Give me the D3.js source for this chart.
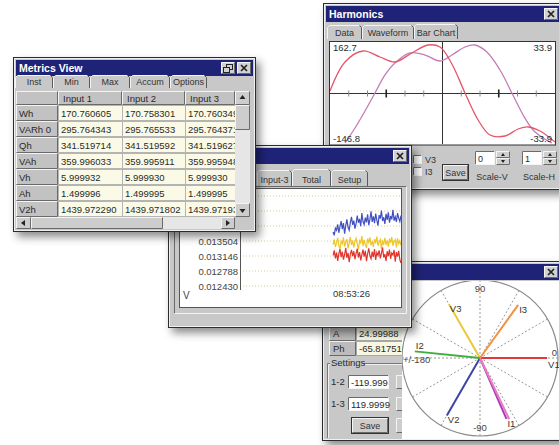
<!DOCTYPE html>
<html>
<head>
<meta charset="utf-8">
<script src="https://cdn.jsdelivr.net/npm/d3@7"></script>
<style>
  body { margin: 0; background: #fff; }
  svg { display: block; }
</style>
</head>
<body>
<script>
// ---- data ----
var metricTabs = ["Inst", "Min", "Max", "Accum", "Options"];
var metricCols = ["Input 1", "Input 2", "Input 3"];
var metricRows = ["Wh", "VARh 0", "Qh", "VAh", "Vh", "Ah", "V2h"];
var input1 = [170.760605, 295.764343, 341.519714, 359.996033, 5.999932, 1.499996, 1439.972290];
var input2 = [170.758301, 295.765533, 341.519592, 359.995911, 5.999930, 1.499995, 1439.971802];
var input3 = [170.760349, 295.764371, 341.519627, 359.995948, 5.999930, 1.499995, 1439.971935];

var harmTabs = ["Data", "Waveform", "Bar Chart"];
var harmTicks = [30, 60, 90, 120, 150, 210, 240, 270, 300, 330];
var harmDeg1 = [0, 24, 53, 80, 104, 131, 157, 176, 195, 216, 237, 256, 280, 301, 317, 336, 360];
var harmVal1 = [15.6, 104.5, 138.2, 119.8, 104.5, 132.1, 156.6, 150.4, 98.4, 9.5, -73.2, -119.2, -122.3, -100.8, -94.7, -106.9, -140.6];
var harmDeg2 = [24, 40, 56, 72, 88, 104, 128, 152, 176, 195, 216, 232, 251, 272, 291, 309, 325, 341, 355];
var harmVal2 = [-143.7, -97.7, -45.7, 9.5, 64.7, 101.4, 132.1, 125.9, 107.5, 125.9, 150.4, 156.6, 135.1, 80, 9.5, -57.9, -103.9, -128.4, -143.7];

var trendTabs = ["Input-3", "Total", "Setup"];
var trendGrid = [0.012430, 0.012788, 0.013146, 0.013504, 0.013862, 0.014220, 0.014578];
var trendLabels = [0.012430, 0.012788, 0.013146, 0.013504];
var trendTime = "08:53:26";
var trendBlue = [0.013720, 0.013640, 0.013810, 0.013760, 0.013900, 0.013700, 0.013850, 0.013980, 0.013790, 0.013930,
                 0.013680, 0.013870, 0.014020, 0.013830, 0.013760, 0.013950, 0.014080, 0.013890, 0.013990, 0.013800,
                 0.013920, 0.014110, 0.013940, 0.014030, 0.013860, 0.014170, 0.013970, 0.013900, 0.014060, 0.013950,
                 0.014140, 0.013880, 0.014020, 0.014210, 0.013960, 0.014090, 0.013930, 0.014160, 0.014000, 0.013870,
                 0.014120, 0.014040, 0.014230, 0.013980, 0.014070, 0.013910, 0.014150, 0.014010, 0.014190, 0.013940,
                 0.014100, 0.014020, 0.014250, 0.013990, 0.014080, 0.013960, 0.014170, 0.014050, 0.013970, 0.014110];
var trendYellow = [0.013420, 0.013540, 0.013360, 0.013470, 0.013580, 0.013390, 0.013310, 0.013500, 0.013440, 0.013590,
                   0.013370, 0.013480, 0.013550, 0.013330, 0.013460, 0.013600, 0.013410, 0.013520, 0.013350, 0.013490,
                   0.013570, 0.013430, 0.013300, 0.013510, 0.013460, 0.013620, 0.013380, 0.013530, 0.013420, 0.013340,
                   0.013560, 0.013470, 0.013590, 0.013400, 0.013500, 0.013360, 0.013550, 0.013450, 0.013610, 0.013390,
                   0.013480, 0.013540, 0.013320, 0.013500, 0.013430, 0.013580, 0.013410, 0.013520, 0.013370, 0.013560,
                   0.013460, 0.013600, 0.013390, 0.013490, 0.013540, 0.013350, 0.013570, 0.013440, 0.013510, 0.013400];
var trendRed = [0.013160, 0.013280, 0.013090, 0.013230, 0.013030, 0.013200, 0.013310, 0.013120, 0.013250, 0.013060,
                0.013180, 0.013340, 0.013100, 0.013220, 0.013000, 0.013190, 0.013290, 0.013140, 0.013260, 0.013070,
                0.013210, 0.013320, 0.013110, 0.013240, 0.013040, 0.013170, 0.013300, 0.013130, 0.013270, 0.013020,
                0.013200, 0.013330, 0.013150, 0.013080, 0.013250, 0.013120, 0.013310, 0.013050, 0.013230, 0.013160,
                0.013280, 0.013090, 0.013210, 0.013350, 0.013110, 0.013190, 0.013030, 0.013260, 0.013140, 0.013300,
                0.013080, 0.013220, 0.013170, 0.013290, 0.013010, 0.013240, 0.013130, 0.013270, 0.013060, 0.012980];

var phasorNames = ["V1", "V2", "V3", "I1", "I1", "I2", "I3"];
var phasorAngles = [0, -120, 120, -66.5, -64.5, 174.2, 54.3];
var phasorMags = [86, 85, 80, 85, 87, 84, 84];
var phasorRing = [0, 30, 60, 90, 120, 150, 180, 210, 240, 270, 300, 330];
var phasorRows = ["A", "Ph"];
var phasorRowVals = ["24.99988", "-65.81751"];
var settingNames = ["1-2", "1-3"];
var settingVals = ["-119.999", "119.9999"];

// ---- styles ----
var FONT = '"Liberation Sans", Arial, sans-serif';
var phasorColors = ["#e2383a", "#3d44a8", "#ecc83a", "#a43cbc", "#ea7ac4", "#3fae3f", "#f29240"];
var labelDy = { V1: 10, I2: -2 };

var svg = d3.select("body").append("svg")
  .attr("width", 559).attr("height", 445)
  .style("font-family", FONT);
svg.append("rect").attr("width", 559).attr("height", 445).attr("fill", "#fff");

var defs = svg.append("defs");
defs.append("filter").attr("id", "shadow")
  .attr("x", "-10%").attr("y", "-10%").attr("width", "130%").attr("height", "130%")
  .append("feDropShadow").attr("dx", 4).attr("dy", 5).attr("stdDeviation", 4)
  .attr("flood-color", "#000").attr("flood-opacity", 0.45);

function label(g, x, y, s, size, anchor, fill, weight) {
  return g.append("text").attr("x", x).attr("y", y).text(s)
    .attr("font-size", size || 9.5)
    .attr("text-anchor", anchor || "start")
    .attr("fill", fill || "#2a2a2a")
    .attr("font-weight", weight || "normal");
}

function box(g, x, y, w, h, fill, style) {
  g.append("rect").attr("x", x).attr("y", y).attr("width", w).attr("height", h).attr("fill", fill);
  if (style == "flat") return;
  var hi = "#f4f4f4", lo = "#6a6a6a";
  var a = style == "raised" ? hi : lo, b = style == "raised" ? lo : hi;
  g.append("path").attr("d", "M" + (x + 0.5) + "," + (y + h - 0.5) + "V" + (y + 0.5) + "H" + (x + w - 0.5))
    .attr("fill", "none").attr("stroke", a);
  g.append("path").attr("d", "M" + (x + 0.5) + "," + (y + h - 0.5) + "H" + (x + w - 0.5) + "V" + (y + 0.5))
    .attr("fill", "none").attr("stroke", b);
}

function closeButton(g, x, y) {
  box(g, x, y, 14, 12, "#d2d2d2", "raised");
  g.append("path").attr("d", "M" + (x + 4) + "," + (y + 3) + "l6,6M" + (x + 10) + "," + (y + 3) + "l-6,6")
    .attr("stroke", "#222").attr("stroke-width", 1.7);
}

function restoreButton(g, x, y) {
  box(g, x, y, 14, 12, "#d2d2d2", "raised");
  g.append("rect").attr("x", x + 5.5).attr("y", y + 2.5).attr("width", 6).attr("height", 5)
    .attr("fill", "none").attr("stroke", "#222");
  g.append("rect").attr("x", x + 2.5).attr("y", y + 5.5).attr("width", 6).attr("height", 5)
    .attr("fill", "#d2d2d2").attr("stroke", "#222");
}

function makeWindow(x, y, w, h, title) {
  var g = svg.append("g");
  g.append("rect").attr("x", x).attr("y", y).attr("width", w).attr("height", h)
    .attr("fill", "#c8c8c8").attr("filter", "url(#shadow)");
  g.append("rect").attr("x", x + 0.5).attr("y", y + 0.5).attr("width", w - 1).attr("height", h - 1)
    .attr("fill", "none").attr("stroke", "#2c2c2c");
  g.append("rect").attr("x", x + 1.5).attr("y", y + 1.5).attr("width", w - 3).attr("height", h - 3)
    .attr("fill", "none").attr("stroke", "#efefef");
  g.append("rect").attr("x", x + 3).attr("y", y + 3).attr("width", w - 6).attr("height", 16).attr("fill", "#1f2377");
  if (title) label(g, x + 6, y + 15, title, 10.5, "start", "#fff", "bold");
  closeButton(g, x + w - 19, y + 5);
  return g;
}

function tabRow(g, x0, y0, names, widths, h, sel) {
  var x = x0;
  names.forEach(function (n, i) {
    var w = widths[i], top = (i == sel) ? y0 - 1 : y0;
    g.append("path").attr("d", "M" + (x + 0.5) + "," + (y0 + h) + "V" + (top + 2.5) + "l2,-2H" + (x + w - 2.5))
      .attr("fill", "none").attr("stroke", "#f4f4f4");
    g.append("path").attr("d", "M" + (x + w - 2.5) + "," + (top + 0.5) + "l2,2V" + (y0 + h))
      .attr("fill", "none").attr("stroke", "#5a5a5a");
    label(g, x + w / 2, y0 + h - 3.5, n, 9, "middle", "#333");
    x += w;
  });
}

function spinBox(g, x, y, val, caption) {
  box(g, x, y, 20, 14, "#fff", "sunken");
  label(g, x + 3, y + 10.5, val, 9);
  box(g, x + 21, y, 14, 7, "#d0d0d0", "raised");
  box(g, x + 21, y + 7, 14, 7, "#d0d0d0", "raised");
  g.append("path").attr("d", "M" + (x + 28) + "," + (y + 2) + "l-2,3h4z").attr("fill", "#222");
  g.append("path").attr("d", "M" + (x + 28) + "," + (y + 12) + "l-2,-3h4z").attr("fill", "#222");
  label(g, x + 17, y + 29, caption, 9, "middle", "#333");
}

function checkBox(g, x, y, caption) {
  box(g, x, y, 9, 9, "#fff", "sunken");
  label(g, x + 12, y + 8, caption, 9, "start", "#333");
}

function button(g, x, y, w, h, caption) {
  g.append("rect").attr("x", x - 0.5).attr("y", y - 0.5).attr("width", w + 1).attr("height", h + 1)
    .attr("fill", "none").attr("stroke", "#333");
  box(g, x, y, w, h, "#cdcdcd", "raised");
  label(g, x + w / 2, y + h / 2 + 3.5, caption, 9, "middle", "#333");
}

// ================= Harmonics window =================
var hw = makeWindow(323, 3, 240, 187, "Harmonics");
tabRow(hw, 327, 25, harmTabs, [35, 52, 44], 14, 2);

var hx = d3.scaleLinear().domain([0, 360]).range([330, 555]);
var hyL = d3.scaleLinear().domain([-146.8, 162.7]).range([144, 43]);
var hyR = d3.scaleLinear().domain([-33.9, 33.9]).range([144, 43]);

hw.append("rect").attr("x", 329.5).attr("y", 41.5).attr("width", 226).attr("height", 103.5)
  .attr("fill", "#fff").attr("stroke", "#333");
defs.append("clipPath").attr("id", "hclip").append("rect")
  .attr("x", 330).attr("y", 42).attr("width", 225).attr("height", 102);
var hp = hw.append("g").attr("clip-path", "url(#hclip)");

hp.append("line").attr("x1", hx(0)).attr("x2", hx(360)).attr("y1", hyR(0)).attr("y2", hyR(0))
  .attr("stroke", "#333");
hp.append("line").attr("x1", hx(180)).attr("x2", hx(180)).attr("y1", 42).attr("y2", 144)
  .attr("stroke", "#333");
hp.selectAll(".htick").data(harmTicks).enter().append("line")
  .attr("x1", function (d) { return hx(d); }).attr("x2", function (d) { return hx(d); })
  .attr("y1", function (d) { return hyR(0) - (d % 90 == 0 ? 4 : 3); })
  .attr("y2", function (d) { return hyR(0) + (d % 90 == 0 ? 4 : 3); })
  .attr("stroke", function (d) { return d % 90 == 0 ? "#222" : "#888"; })
  .attr("stroke-width", function (d) { return d % 90 == 0 ? 1.6 : 1; });

var hline = d3.line()
  .x(function (d) { return hx(d[0]); })
  .y(function (d) { return hyL(d[1]); })
  .curve(d3.curveCatmullRom.alpha(0.5));
hp.append("path").attr("d", hline(d3.zip(harmDeg2, harmVal2)))
  .attr("fill", "none").attr("stroke", "#c47cb8").attr("stroke-width", 1.3);
hp.append("path").attr("d", hline(d3.zip(harmDeg1, harmVal1)))
  .attr("fill", "none").attr("stroke", "#e4566a").attr("stroke-width", 1.3);

label(hw, hx(0) + 3, hyL.range()[1] + 8, String(hyL.domain()[1]), 9.5);
label(hw, hx(360) - 3, hyR.range()[1] + 8, String(hyR.domain()[1]), 9.5, "end");
label(hw, hx(0) + 3, hyL.range()[0] - 2, String(hyL.domain()[0]), 9.5);
label(hw, hx(360) - 3, hyR.range()[0] - 2, String(hyR.domain()[0]), 9.5, "end");

checkBox(hw, 413, 155, "V3");
checkBox(hw, 413, 167, "I3");
button(hw, 443, 165, 25, 15, "Save");
spinBox(hw, 475, 151, "0", "Scale-V");
spinBox(hw, 522, 151, "1", "Scale-H");

// ================= Phasor window =================
var pw = makeWindow(322, 261, 241, 180, "");

phasorRows.forEach(function (r, i) {
  var y = 326 + i * 15;
  box(pw, 329, y, 27, 15, "#bcbcbc", "raised");
  label(pw, 333, y + 11, r, 9.5);
  pw.append("rect").attr("x", 356.5).attr("y", y + 0.5).attr("width", 48).attr("height", 14)
    .attr("fill", "#f7f7e4").attr("stroke", "#a8a8a8");
  label(pw, 359, y + 11, phasorRowVals[i], 9.5);
});

pw.append("path").attr("d", "M327.5,438V363.5H404").attr("fill", "none").attr("stroke", "#777");
pw.append("path").attr("d", "M328.5,438V364.5H404").attr("fill", "none").attr("stroke", "#f0f0f0");
pw.append("rect").attr("x", 330).attr("y", 358).attr("width", 34).attr("height", 11).attr("fill", "#c8c8c8");
label(pw, 331, 366, "Settings", 9.5);
settingNames.forEach(function (s, i) {
  var y = 375 + i * 22;
  label(pw, 331, y + 10, s, 9.5);
  box(pw, 348, y, 41, 14, "#fff", "sunken");
  label(pw, 351, y + 10.5, settingVals[i], 9.5);
  box(pw, 396, y, 12, 14, "#cdcdcd", "raised");
});
button(pw, 352, 418, 36, 15, "Save");
box(pw, 396, 418, 12, 15, "#cdcdcd", "raised");

// polar plot
pw.append("rect").attr("x", 402).attr("y", 281).attr("width", 157).attr("height", 158).attr("fill", "#fff");
defs.append("clipPath").attr("id", "pclip").append("rect")
  .attr("x", 402).attr("y", 281).attr("width", 157).attr("height", 158);
var pg = pw.append("g").attr("clip-path", "url(#pclip)")
  .append("g").attr("transform", "translate(480,358)");
var pr = d3.scaleLinear().domain([0, 100]).range([0, 78]);
function polar(deg, mag) {
  return d3.pointRadial(Math.PI / 2 - deg * Math.PI / 180, pr(mag));
}
pg.append("circle").attr("r", pr(100)).attr("fill", "none").attr("stroke", "#8a8a8a").attr("stroke-width", 1.2);
pg.selectAll(".spoke").data(phasorRing).enter().append("line")
  .attr("x2", function (d) { return polar(d, 100)[0]; })
  .attr("y2", function (d) { return polar(d, 100)[1]; })
  .attr("stroke", "#9a9a9a").attr("stroke-dasharray", "2,2");

label(pg, polar(90, 100)[0], polar(90, 100)[1] + 12, "90", 9.5, "middle", "#444");
label(pg, polar(-90, 100)[0], polar(-90, 100)[1] - 5, "-90", 9.5, "middle", "#444");
label(pg, polar(0, 100)[0] - 1, -2, "0", 9.5, "end", "#444");
label(pg, polar(180, 100)[0] + 1, 5, "+/-180", 9.5, "start", "#444");

pg.selectAll(".vec").data(phasorAngles).enter().append("line")
  .attr("x2", function (d, i) { return polar(d, phasorMags[i])[0]; })
  .attr("y2", function (d, i) { return polar(d, phasorMags[i])[1]; })
  .attr("stroke", function (d, i) { return phasorColors[i]; })
  .attr("stroke-width", 2);
var seen = {};
phasorNames.forEach(function (n, i) {
  if (seen[n]) return;
  seen[n] = true;
  var p = polar(phasorAngles[i], phasorMags[i]);
  var dy = labelDy[n] !== undefined ? labelDy[n] : 8;
  label(pg, p[0] + 1, p[1] + dy, n, 9.5, "start", "#333");
});

// ================= Trend window =================
var tw = makeWindow(168, 145, 244, 183, "");
tabRow(tw, 257, 170, trendTabs, [35, 39, 37], 16, 1);
box(tw, 174, 186, 233, 128, "#c8c8c8", "sunken");
tw.append("rect").attr("x", 179.5).attr("y", 188.5).attr("width", 222).attr("height", 119)
  .attr("fill", "#fff").attr("stroke", "#555");

var tx = d3.scaleLinear().domain([-133, 59]).range([180, 401]);
var ty = d3.scaleLinear().domain([trendGrid[0], trendGrid[6]]).range([286, 196]);
var axisX = 240;

tw.selectAll(".tgrid").data(trendGrid).enter().append("line")
  .attr("x1", axisX).attr("x2", 400)
  .attr("y1", function (d) { return ty(d); }).attr("y2", function (d) { return ty(d); })
  .attr("stroke", "#d6cc98").attr("stroke-dasharray", "1,2");
tw.append("line").attr("x1", axisX + 0.5).attr("x2", axisX + 0.5).attr("y1", 189).attr("y2", ty(trendGrid[0]) + 4)
  .attr("stroke", "#555");
trendLabels.forEach(function (v) {
  label(tw, axisX - 2, ty(v) + 3.5, d3.format(".6f")(v), 9.5, "end", "#444");
});
label(tw, 183, 299, "V", 10, "start", "#444");
label(tw, tx(0), 297, trendTime, 9.5, "start", "#333");

defs.append("clipPath").attr("id", "tclip").append("rect")
  .attr("x", 180).attr("y", 189).attr("width", 221).attr("height", 118);
var tline = d3.line()
  .x(function (d, i) { return tx(i); })
  .y(function (d) { return ty(d); });
var tp = tw.append("g").attr("clip-path", "url(#tclip)");
[[trendYellow, "#efc62a"], [trendRed, "#e2342c"], [trendBlue, "#4150c2"]].forEach(function (s) {
  tp.append("path").attr("d", tline(s[0])).attr("fill", "none")
    .attr("stroke", s[1]).attr("stroke-width", 1.2);
});

// ================= Metrics window =================
var mw = makeWindow(13, 57, 243, 175, "Metrics View");
restoreButton(mw, 221, 62);
tabRow(mw, 15, 75, metricTabs, [38, 37, 40, 40, 37], 13, -1);

var colEdges = [16, 58, 122, 185, 235];
var rowY = d3.scaleBand().domain(metricRows).range([105, 217]);
var colVals = [input1, input2, input3];

box(mw, 16, 91, 42, 14, "#c2c2c2", "raised");
metricCols.forEach(function (c, j) {
  var x0 = colEdges[j + 1], x1 = colEdges[j + 2];
  box(mw, x0, 91, x1 - x0, 14, "#c2c2c2", "raised");
  label(mw, x0 + 5, 102, c, 9.5);
});
defs.append("clipPath").attr("id", "mclip").append("rect")
  .attr("x", 16).attr("y", 91).attr("width", 219).attr("height", 126);
var mt = mw.append("g").attr("clip-path", "url(#mclip)");
metricRows.forEach(function (r, i) {
  var y = rowY(r), h = rowY.bandwidth();
  box(mt, 16, y, 42, h, "#c2c2c2", "raised");
  label(mt, 19, y + 11.5, r, 9.5);
  colVals.forEach(function (vals, j) {
    var x0 = colEdges[j + 1], x1 = colEdges[j + 2];
    mt.append("rect").attr("x", x0 + 0.5).attr("y", y + 0.5).attr("width", x1 - x0).attr("height", h - 1)
      .attr("fill", "#fafae6").attr("stroke", "#b4b4b4");
    label(mt, x0 + 3, y + 11.5, vals[i].toFixed(6), 9.5);
  });
});

// vertical scrollbar
mw.append("rect").attr("x", 235).attr("y", 91).attr("width", 15).attr("height", 126).attr("fill", "#e6e6e6");
box(mw, 235, 91, 15, 14, "#cdcdcd", "raised");
mw.append("path").attr("d", "M242.5,95l-3,4h6z").attr("fill", "#222");
box(mw, 235, 105, 15, 25, "#cdcdcd", "raised");
box(mw, 235, 203, 15, 14, "#cdcdcd", "raised");
mw.append("path").attr("d", "M242.5,213l-3,-4h6z").attr("fill", "#222");
// horizontal scrollbar
mw.append("rect").attr("x", 16).attr("y", 217).attr("width", 219).attr("height", 12).attr("fill", "#e6e6e6");
box(mw, 16, 217, 15, 12, "#cdcdcd", "raised");
mw.append("path").attr("d", "M21,223l4,-3v6z").attr("fill", "#222");
box(mw, 31, 217, 132, 12, "#cdcdcd", "raised");
box(mw, 221, 217, 14, 12, "#cdcdcd", "raised");
mw.append("path").attr("d", "M230,223l-4,-3v6z").attr("fill", "#222");
mw.append("rect").attr("x", 235).attr("y", 217).attr("width", 15).attr("height", 12).attr("fill", "#c8c8c8");
</script>
</body>
</html>
